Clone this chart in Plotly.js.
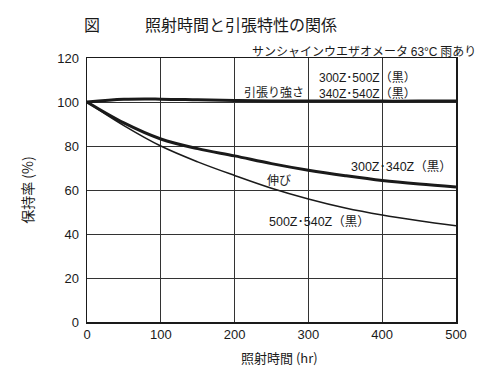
<!DOCTYPE html>
<html>
<head>
<meta charset="utf-8">
<script src="https://cdn.plot.ly/plotly-3.0.1.min.js"></script>
<style>html,body{margin:0;padding:0;background:#fff;}#chart{width:500px;height:379px;}</style>
</head>
<body>
<div id="chart"></div>
<script>
// Data
const hours = [0, 50, 100, 150, 200, 250, 300, 350, 400, 450, 500];
const tensile = [100, 101.2, 101.3, 101, 100.7, 100.5, 100.5, 100.5, 100.4, 100.4, 100.4];
const elong300340 = [100, 90.5, 83.2, 78.8, 75.5, 72, 69, 66.5, 64.3, 62.7, 61.4];
const elong500540 = [100, 89.3, 80, 72.8, 66.6, 60.8, 55.9, 51.8, 48.6, 46, 43.7];
const xTicks = [0, 100, 200, 300, 400, 500];
const yTicks = [0, 20, 40, 60, 80, 100, 120];

const JP = '"Noto Sans CJK JP", sans-serif';
const NUM = '"Liberation Sans", Arial, "Noto Sans CJK JP", sans-serif';
const ink = '#1a1a1a';

const traces = [
  {x: hours, y: tensile, mode: 'lines', line: {color: ink, width: 3, shape: 'spline'}, hoverinfo: 'skip'},
  {x: hours, y: elong300340, mode: 'lines', line: {color: ink, width: 3, shape: 'spline'}, hoverinfo: 'skip'},
  {x: hours, y: elong500540, mode: 'lines', line: {color: ink, width: 1.5, shape: 'spline'}, hoverinfo: 'skip'}
];

const ann = (text, x, y, opts) => Object.assign({text, x, y, xref: 'x', yref: 'y', showarrow: false,
  xanchor: 'left', yanchor: 'middle', font: {family: JP, size: 12, color: ink}}, opts || {});
const numFont = {family: NUM, size: 12.5, color: ink};

const layout = {
  width: 500, height: 379,
  margin: {l: 87, r: 44, t: 58, b: 57},
  paper_bgcolor: '#fff', plot_bgcolor: '#fff',
  showlegend: false,
  xaxis: {range: [0, 500], tickvals: xTicks, showgrid: true, gridcolor: '#333', gridwidth: 1,
    showline: true, mirror: true, linecolor: ink, linewidth: 1.5, zeroline: false,
    ticks: '', tickfont: {family: NUM, size: 13, color: ink}},
  yaxis: {range: [0, 120], tickvals: yTicks, showgrid: true, gridcolor: '#333', gridwidth: 1,
    showline: true, mirror: true, linecolor: ink, linewidth: 1.5, zeroline: false,
    ticks: '', ticklabelstandoff: 4, tickfont: {family: NUM, size: 13, color: ink}},
  annotations: [
    ann('引張り強さ', 210, 104.8),
    ann('300Z･500Z（黒）<br>340Z･540Z（黒）', 311, 107.5, {font: {family: NUM, size: 12, color: ink}, align: 'left'}),
    ann('300Z･340Z（黒）', 355, 70.6, {font: numFont}),
    ann('伸び', 241, 64.7),
    ann('500Z･540Z（黒）', 244, 45.6, {font: numFont}),
    {text: '図', xref: 'paper', yref: 'paper', x: -0.014, y: 1.129, xanchor: 'left', yanchor: 'middle', showarrow: false,
      font: {family: JP, size: 16, color: ink}},
    {text: '照射時間と引張特性の関係', xref: 'paper', yref: 'paper', x: 0.152, y: 1.129, xanchor: 'left', yanchor: 'middle', showarrow: false,
      font: {family: JP, size: 16, color: ink}},
    {text: 'サンシャインウエザオメータ <span style="font-family:Liberation Sans">63°C</span> 雨あり', xref: 'paper', yref: 'paper', x: 1.06, y: 1.03, xanchor: 'right', yanchor: 'middle', showarrow: false,
      font: {family: JP, size: 12, color: ink}},
    {text: '保持率 (%)', xref: 'paper', yref: 'paper', x: -0.163, y: 0.5, textangle: -90, xanchor: 'center', yanchor: 'middle', showarrow: false,
      font: {family: JP, size: 14, color: ink}},
    {text: '照射時間 (hr)', xref: 'paper', yref: 'paper', x: 0.523, y: -0.136, xanchor: 'center', yanchor: 'middle', showarrow: false,
      font: {family: JP, size: 13, color: ink}}
  ]
};

Plotly.newPlot('chart', traces, layout, {staticPlot: true, displayModeBar: false});
</script>
</body>
</html>
